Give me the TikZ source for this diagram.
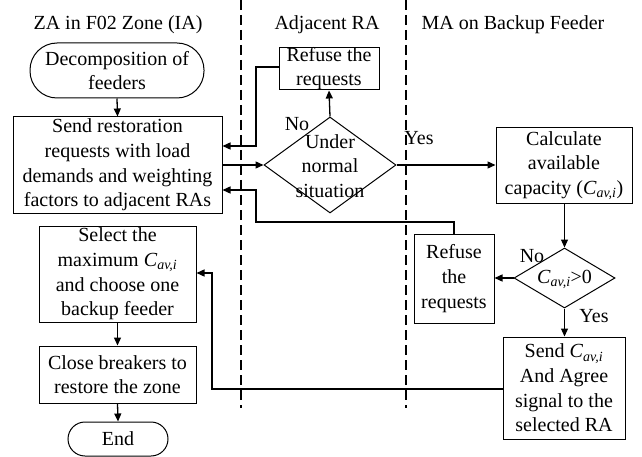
\documentclass[tikz,border=0pt]{standalone}
\usepackage{fontspec}
\setmainfont{Liberation Serif}
\usetikzlibrary{arrows.meta,shapes.geometric}
\newcommand{\Cav}{\textit{C}\textsubscript{\textit{av,i}}}
\begin{document}
\begin{tikzpicture}[x=1pt,y=-1pt,
  txt/.style={font=\fontsize{20}{24.6}\selectfont, align=center, inner sep=0pt},
  box/.style={txt, draw, line width=1pt, rectangle},
  term/.style={txt, draw, line width=1pt, rectangle, rounded corners=17pt},
  decision/.style={draw, line width=1pt, diamond, inner sep=0pt},
  flow/.style={line width=1.3pt, -{Triangle[length=8pt,width=7pt]}},
  lane/.style={line width=1.1pt, dash pattern=on 10pt off 5pt}]
\useasboundingbox (0,0) rectangle (642,457);

% swimlane titles and separators
\node[txt] (t1) at (118,25) {ZA in F02 Zone (IA)};
\node[txt] (t2) at (327,25) {Adjacent RA};
\node[txt] (t3) at (513,25) {MA on Backup Feeder};
\coordinate (l1a) at (241,0);  \coordinate (l1b) at (241,408);
\coordinate (l2a) at (406,0);  \coordinate (l2b) at (406,408);
\draw[lane] (l1a) -- (l1b);
\draw[lane] (l2a) -- (l2b);

% left lane
\node[term, minimum width=174pt, minimum height=55pt, rounded corners=27pt] (dec) at (117,70.5) {Decomposition of\\feeders};
\node[box, minimum width=209pt, minimum height=96pt] (send) at (117.5,165) {Send restoration\\requests with load\\demands and weighting\\factors to adjacent RAs};
\node[box, minimum width=157pt, minimum height=96pt] (sel) at (117.5,274) {Select the\\maximum \Cav\\and choose one\\backup feeder};
\node[box, minimum width=157pt, minimum height=57pt] (close) at (117.5,374.5) {Close breakers to\\restore the zone};
\node[term, minimum width=100pt, minimum height=34pt] (end) at (118,439) {End};

% middle lane
\node[box, minimum width=100pt, minimum height=41pt] (ref1) at (329,68.5) {Refuse the\\requests};
\node[decision, minimum width=132pt, minimum height=96pt] (d1) at (330,165) {};
\node[txt] (d1t) at (330,166) {Under\\normal\\situation};

% right lane
\node[box, minimum width=136pt, minimum height=75pt] (calc) at (564,165.5) {Calculate\\available\\capacity (\Cav)};
\node[decision, minimum width=101pt, minimum height=60pt] (d2) at (564.5,278) {};
\node[txt] (d2t) at (564.5,279) {\Cav>0};
\node[box, minimum width=80pt, minimum height=89pt] (ref2) at (454,278.5) {Refuse\\the\\requests};
\node[box, minimum width=122pt, minimum height=102pt] (send2) at (564,388) {Send \Cav\\And Agree\\signal to the\\selected RA};

% branch labels
\node[txt] (no1) at (297,124) {No};
\node[txt] (yes1) at (419,138) {Yes};
\node[txt] (no2) at (532,256) {No};
\node[txt] (yes2) at (594,316) {Yes};

% routing corners
\coordinate (c1) at (256,67);
\coordinate (c2) at (256,146);
\coordinate (c3) at (454,222);
\coordinate (c4) at (256,222);
\coordinate (c5) at (256,190);
\coordinate (c6) at (212,389);
\coordinate (c7) at (212,273);

% connectors
\draw[flow] (dec.south) -- (send.north);
\draw[flow] (send.east) -- (d1.west);
\draw[flow] (d1.north) -- (ref1.south);
\draw[flow] (ref1.west |- c1) -- (c1) -- (c2) -- (send.east |- c2);
\draw[flow] (d1.east) -- (calc.west |- d1.east);
\draw[flow] (calc.south -| d2.north) -- (d2.north);
\draw[flow] (d2.west) -- (ref2.east |- d2.west);
\draw[flow] (d2.south) -- (send2.north -| d2.south);
\draw[flow] (ref2.north) -- (c3) -- (c4) -- (c5) -- (send.east |- c5);
\draw[flow] (send2.west |- c6) -- (c6) -- (c7) -- (sel.east |- c7);
\draw[flow] (sel.south) -- (close.north);
\draw[flow] (close.south) -- (end.north);
\end{tikzpicture}
\end{document}
